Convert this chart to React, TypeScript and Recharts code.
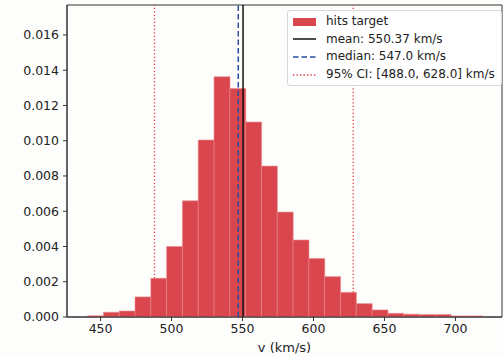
import React from 'react';
import { BarChart, Bar, XAxis, YAxis, ReferenceLine, ReferenceArea, Legend } from 'recharts';

// Histogram bins (centers, km/s) and density values
const binCenters = [
  446.44, 457.57, 468.7, 479.83, 490.96, 502.09, 513.22, 524.35, 535.48, 546.61,
  557.74, 568.87, 580.0, 591.13, 602.26, 613.39, 624.52, 635.65, 646.78, 657.91,
  669.04, 680.17, 691.3, 702.43, 713.56,
];
const densities = [
  0.00007, 0.00027, 0.00034, 0.00114, 0.0022, 0.004, 0.00659, 0.01004, 0.01363, 0.01297,
  0.01106, 0.00856, 0.00595, 0.00437, 0.00332, 0.00229, 0.0014, 0.00076, 0.0004, 0.00021,
  0.00016, 0.00014, 0.00014, 0.00006, 0.00006,
];
const xTicks = [450, 500, 550, 600, 650, 700];
const yTicks = [0, 0.002, 0.004, 0.006, 0.008, 0.01, 0.012, 0.014, 0.016];
const xDomain = [426.35, 732.8];
const yDomain = [0, 0.0177];

const meanV = 550.37;
const medianV = 547.0;
const ciLow = 488.0;
const ciHigh = 628.0;

const legendItems = [
  { label: 'hits target', kind: 'patch' },
  { label: `mean: ${meanV} km/s`, kind: 'solid' },
  { label: `median: ${medianV.toFixed(1)} km/s`, kind: 'dashed' },
  { label: `95% CI: [${ciLow.toFixed(1)}, ${ciHigh.toFixed(1)}] km/s`, kind: 'dotted' },
];

const data = binCenters.map((c, i) => ({ v: c, density: densities[i] }));

const FONT = '"DejaVu Sans", sans-serif';
const BAR_COLOR = '#d9464d';

const LegendBox = () => (
  <div
    style={{
      border: '1px solid #d8d8d8',
      borderRadius: 3,
      background: 'rgba(255,255,255,0.85)',
      padding: '2px 6px 2px 5px',
      fontFamily: FONT,
      fontSize: 12,
      color: '#222',
      lineHeight: '17.6px',
    }}
  >
    {legendItems.map((it) => (
      <div key={it.label} style={{ display: 'flex', alignItems: 'center', whiteSpace: 'nowrap' }}>
        <svg width={24} height={12} style={{ marginRight: 9, flex: 'none' }}>
          {it.kind === 'patch' && <rect x={0} y={2} width={23} height={8} fill={BAR_COLOR} />}
          {it.kind === 'solid' && <line x1={0} x2={23} y1={6} y2={6} stroke="#111" strokeWidth={1.5} />}
          {it.kind === 'dashed' && (
            <line x1={0} x2={23} y1={6} y2={6} stroke="#2a4ea0" strokeWidth={1.5} strokeDasharray="5.5 3" />
          )}
          {it.kind === 'dotted' && (
            <line x1={0} x2={23} y1={6} y2={6} stroke="#e8363c" strokeWidth={1.3} strokeDasharray="1.3 2.2" />
          )}
        </svg>
        <span>{it.label}</span>
      </div>
    ))}
  </div>
);

export default function App() {
  return (
    <div style={{ position: 'fixed', left: 0, top: 0, width: 503, height: 356, background: '#fdfdfb' }}>
      <BarChart
        width={503}
        height={356}
        data={data}
        margin={{ top: 5, right: 1, left: 0, bottom: 0 }}
        barCategoryGap={0}
        barGap={0}
      >
        <XAxis
          dataKey="v"
          type="number"
          domain={xDomain}
          ticks={xTicks}
          allowDataOverflow
          height={39}
          tickSize={4}
          tickMargin={3}
          stroke="#333"
          tick={{ fill: '#222', fontSize: 12.5, fontFamily: FONT }}
          tickLine={{ stroke: '#333' }}
          label={{ value: 'v (km/s)', position: 'insideBottom', offset: 4, fill: '#222', fontSize: 13, fontFamily: FONT }}
        />
        <YAxis
          type="number"
          domain={yDomain}
          ticks={yTicks}
          allowDataOverflow
          width={67}
          tickSize={4}
          tickMargin={4}
          stroke="#333"
          tickFormatter={(v: number) => v.toFixed(3)}
          tick={{ fill: '#222', fontSize: 12.5, fontFamily: FONT }}
          tickLine={{ stroke: '#333' }}
        />
        <Bar dataKey="density" fill={BAR_COLOR} stroke="#ea9094" strokeWidth={0.6} isAnimationActive={false} />
        <ReferenceLine x={meanV} stroke="#111" strokeWidth={1.5} />
        <ReferenceLine x={medianV} stroke="#2a4ea0" strokeWidth={1.5} strokeDasharray="5.5 3" />
        <ReferenceLine x={ciLow} stroke="#e8363c" strokeWidth={1.3} strokeDasharray="1.3 2.2" />
        <ReferenceLine x={ciHigh} stroke="#e8363c" strokeWidth={1.3} strokeDasharray="1.3 2.2" />
        <ReferenceArea
          x1={xDomain[0]}
          x2={xDomain[1]}
          y1={yDomain[0]}
          y2={yDomain[1]}
          fill="none"
          fillOpacity={0}
          stroke="#333"
          strokeWidth={1}
          ifOverflow="visible"
        />
        <Legend
          layout="vertical"
          align="center"
          verticalAlign="middle"
          content={() => <LegendBox />}
          wrapperStyle={{ position: 'absolute', left: 287, top: 10, width: 'auto', right: 'auto', bottom: 'auto' }}
        />
      </BarChart>
    </div>
  );
}
